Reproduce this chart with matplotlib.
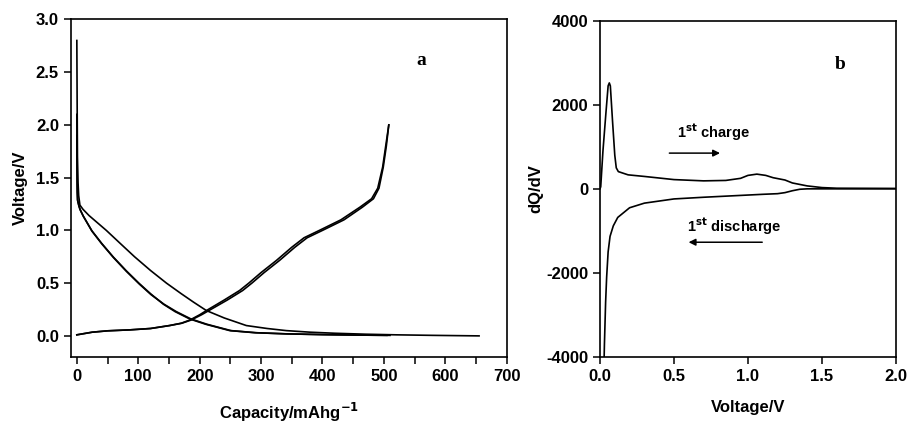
import matplotlib.pyplot as plt
from matplotlib.ticker import MultipleLocator

plt.rcParams.update({
    'font.family': ['Liberation Sans', 'DejaVu Sans'],
    'font.weight': 'bold',
    'font.size': 12,
    'axes.linewidth': 1.2,
    'axes.unicode_minus': False,
    'xtick.direction': 'out',
    'ytick.direction': 'out',
})

# ===================== DATA (a): voltage profiles =====================
dis1_cap = [0, 0.5, 1, 2, 3, 5, 10, 20, 30, 48, 70, 94, 120, 146, 170, 190, 211, 240, 276,
            310, 341, 380, 420, 470, 520, 580, 655]
dis1_v = [2.8, 2.2, 1.7, 1.45, 1.33, 1.24, 1.2, 1.14, 1.09, 1.0, 0.88, 0.75, 0.62, 0.5, 0.40,
          0.32, 0.24, 0.17, 0.098, 0.07, 0.05, 0.035, 0.025, 0.016, 0.01, 0.005, 0.0]

dis2_cap = [0, 0.2, 0.5, 1, 3, 5, 10, 15, 24, 40, 59, 80, 101, 120, 141, 160, 184, 210,
            249, 290, 341, 400, 450, 510]
dis2_v = [2.1, 1.7, 1.45, 1.29, 1.24, 1.2, 1.14, 1.09, 1.0, 0.88, 0.75, 0.62, 0.5, 0.4, 0.30,
          0.23, 0.16, 0.11, 0.05, 0.03, 0.019, 0.012, 0.008, 0.005]
dis3_cap = [0, 0.3, 0.7, 1.5, 3.5, 6, 11, 16, 25, 41, 60, 81, 102, 121, 142, 162, 186, 212,
            251, 292, 343, 402, 452, 505]
dis3_v = [1.9, 1.55, 1.36, 1.28, 1.23, 1.19, 1.13, 1.08, 0.99, 0.87, 0.74, 0.61, 0.49, 0.39, 0.30,
          0.23, 0.16, 0.11, 0.05, 0.03, 0.019, 0.012, 0.008, 0.005]

chg1_cap = [0, 25, 50, 86, 120, 151, 170, 184, 200, 211, 240, 265, 280, 300, 325, 350, 370, 395,
            430, 461, 480, 490, 498, 503, 508]
chg1_v = [0.01, 0.035, 0.048, 0.057, 0.07, 0.098, 0.12, 0.15, 0.2, 0.24, 0.34, 0.43, 0.5, 0.6,
          0.715, 0.84, 0.93, 1.0, 1.1, 1.22, 1.3, 1.4, 1.6, 1.8, 2.0]
chg2_cap = [0, 25, 50, 86, 120, 151, 171, 186, 203, 215, 245, 270, 285, 305, 330, 355, 375, 400,
            435, 465, 483, 492, 499, 504, 508]
chg2_v = [0.01, 0.035, 0.048, 0.057, 0.07, 0.098, 0.12, 0.15, 0.2, 0.24, 0.34, 0.43, 0.5, 0.6,
          0.715, 0.84, 0.93, 1.0, 1.1, 1.22, 1.3, 1.4, 1.6, 1.8, 2.0]

# ===================== DATA (b): differential capacity =====================
dq_chg_v = [0.0, 0.005, 0.02, 0.04, 0.055, 0.063, 0.07, 0.085, 0.1, 0.11, 0.124, 0.19, 0.3, 0.5, 0.7,
            0.85, 0.95, 1.0, 1.06, 1.12, 1.17, 1.25, 1.3, 1.4, 1.5, 1.6, 2.0]
dq_chg = [0, 50, 900, 1800, 2450, 2520, 2450, 1600, 800, 500, 410, 333, 295, 220, 190,
          200, 250, 320, 350, 320, 265, 210, 140, 70, 30, 15, 10]

dq_dis_v = [0.025, 0.03, 0.038, 0.045, 0.055, 0.068, 0.09, 0.12, 0.2, 0.3, 0.5, 0.7, 0.9, 1.1, 1.2,
            1.25, 1.3, 1.35, 1.4, 2.0]
dq_dis = [-4500, -3700, -2700, -2100, -1500, -1130, -880, -680, -450, -340, -240, -200, -165, -130,
          -115, -90, -45, -10, 0, 0]

# ===================== FIGURE =====================
fig = plt.figure(figsize=(9.11, 4.26), dpi=100)
ax1 = fig.add_axes([0.0776, 0.162, 0.4786, 0.7925])
ax2 = fig.add_axes([0.6586, 0.162, 0.3249, 0.7894])

lw = 1.2
for c, v in [(dis1_cap, dis1_v), (dis2_cap, dis2_v), (dis3_cap, dis3_v),
             (chg1_cap, chg1_v), (chg2_cap, chg2_v)]:
    ax1.plot(c, v, color='black', lw=lw)
ax1.set_xlim(-10, 700)
ax1.set_ylim(-0.2, 3.0)
ax1.xaxis.set_major_locator(MultipleLocator(100))
ax1.xaxis.set_minor_locator(MultipleLocator(50))
ax1.yaxis.set_major_locator(MultipleLocator(0.5))
ax1.tick_params(which='both', length=5, width=1.1, top=False, right=False)
ax1.set_xlabel('Capacity/mAhg$^{\\mathbf{-1}}$', fontweight='bold', labelpad=12)
ax1.set_ylabel('Voltage/V', fontweight='bold', labelpad=6)
ax1.text(561, 2.61, 'a', fontsize=14, fontweight='bold', family='Liberation Serif',
         ha='center', va='center')

ax2.plot(dq_chg_v, dq_chg, color='black', lw=lw)
ax2.plot(dq_dis_v, dq_dis, color='black', lw=lw)
ax2.set_xlim(0, 2.0)
ax2.set_ylim(-4000, 4000)
ax2.xaxis.set_major_locator(MultipleLocator(0.5))
ax2.yaxis.set_major_locator(MultipleLocator(2000))
ax2.tick_params(length=5, width=1.1)
ax2.set_xlabel('Voltage/V', fontweight='bold', labelpad=12)
ax2.set_ylabel('dQ/dV', fontweight='bold', labelpad=2)
ax2.text(1.62, 2950, 'b', fontsize=14, fontweight='bold', family='Liberation Serif',
         ha='center', va='center')

ax2.text(0.52, 1357, '1$^{\\mathbf{st}}$ charge', fontsize=10.5, fontweight='bold', va='center')
ax2.annotate('', xy=(0.83, 850), xytext=(0.45, 850),
             arrowprops=dict(arrowstyle='-|>', color='black', lw=1.1, mutation_scale=10))
ax2.text(0.585, -880, '1$^{\\mathbf{st}}$ discharge', fontsize=10.5, fontweight='bold', va='center')
ax2.annotate('', xy=(0.58, -1270), xytext=(1.115, -1270),
             arrowprops=dict(arrowstyle='-|>', color='black', lw=1.1, mutation_scale=10))

plt.savefig('out.png', dpi=100)
plt.close()
